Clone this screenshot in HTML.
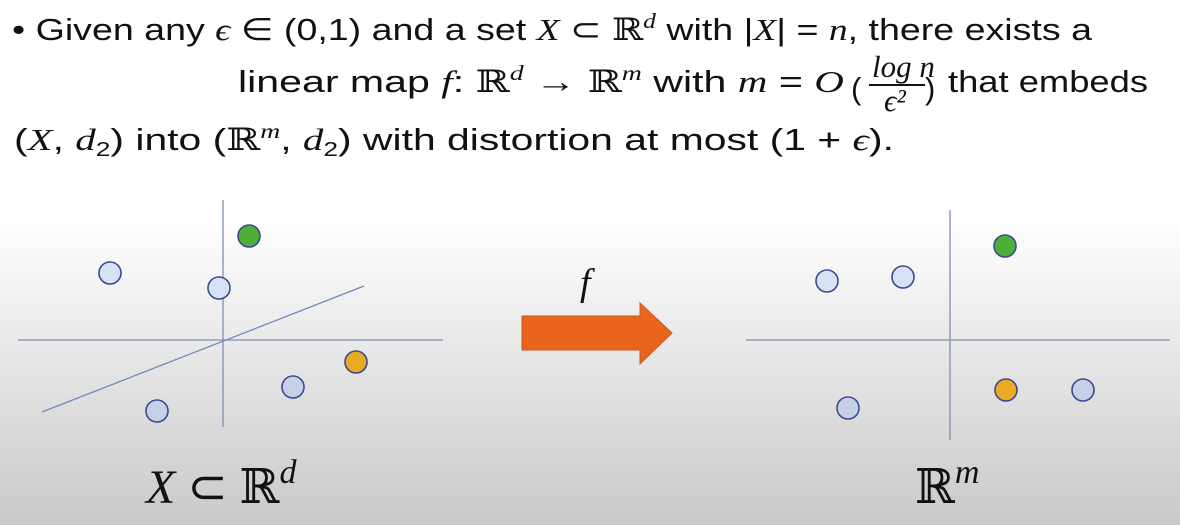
<!DOCTYPE html>
<html><head><meta charset="utf-8"><style>
html,body{margin:0;padding:0;width:1180px;height:525px;overflow:hidden}
svg{display:block}
.t{font-family:"Liberation Sans",sans-serif;font-size:31px;fill:#111}
.m{font-family:"Liberation Serif","DejaVu Serif",serif;font-style:italic}
.r{font-family:"DejaVu Serif","Liberation Serif",serif;font-style:normal}
</style></head><body>
<svg id="svg" width="1180" height="525" viewBox="0 0 1180 525">
<defs><linearGradient id="bg" x1="0" y1="0" x2="0" y2="1">
<stop offset="0" stop-color="#ffffff"/><stop offset="0.42" stop-color="#ffffff"/><stop offset="0.62" stop-color="#ececec"/><stop offset="1" stop-color="#c9c9c9"/></linearGradient></defs>
<rect width="1180" height="525" fill="url(#bg)"/>
<g>
<text class="t" x="12" y="40" textLength="1080" lengthAdjust="spacingAndGlyphs">• Given any <tspan class="m">ϵ</tspan> ∈ (0,1) and a set <tspan class="m">X</tspan> ⊂ <tspan class="r">ℝ</tspan><tspan class="m" dy="-12" font-size="21">d</tspan><tspan dy="12"> with |</tspan><tspan class="m">X</tspan>| = <tspan class="m">n</tspan>, there exists a</text>
<text class="t" x="238" y="92" textLength="606" lengthAdjust="spacingAndGlyphs">linear map <tspan class="m">f</tspan>: <tspan class="r">ℝ</tspan><tspan class="m" dy="-12" font-size="21">d</tspan><tspan dy="12"> → </tspan><tspan class="r">ℝ</tspan><tspan class="m" dy="-12" font-size="21">m</tspan><tspan dy="12"> with </tspan><tspan class="m">m</tspan> = <tspan class="m">O</tspan></text>
<text class="t" x="851" y="99" font-size="46">(</text>
<text class="t m" x="872" y="77" font-size="24">log n</text>
<line x1="869" y1="85" x2="925" y2="85" stroke="#111" stroke-width="2"/>
<text class="t m" x="884" y="111" font-size="24">ϵ²</text>
<text class="t" x="925" y="99" font-size="46">)</text>
<text class="t" x="948" y="92" textLength="200" lengthAdjust="spacingAndGlyphs">that embeds</text>
<text class="t" x="14" y="150" textLength="880" lengthAdjust="spacingAndGlyphs">(<tspan class="m">X</tspan>, <tspan class="m">d</tspan><tspan font-size="20" dy="6">2</tspan><tspan dy="-6">) into (</tspan><tspan class="r">ℝ</tspan><tspan class="m" dy="-12" font-size="21">m</tspan><tspan dy="12">, </tspan><tspan class="m">d</tspan><tspan font-size="20" dy="6">2</tspan><tspan dy="-6">) with distortion at most (1 + </tspan><tspan class="m">ϵ</tspan>).</text>
</g>
<g id="left">
<line x1="18" y1="340" x2="443" y2="340" stroke="#8090b0" stroke-width="1.3"/>
<line x1="223" y1="200" x2="223" y2="427" stroke="#8090b0" stroke-width="1.3"/>
<line x1="42" y1="412" x2="364" y2="286" stroke="#7088c0" stroke-width="1.3"/>
</g>
<g id="right">
<line x1="746" y1="340" x2="1170" y2="340" stroke="#8090b0" stroke-width="1.3"/>
<line x1="950" y1="210" x2="950" y2="440" stroke="#8090b0" stroke-width="1.3"/>
</g>
<path d="M522 316 H640 V303 L672 333 L640 364 V350 H522 Z" fill="#ea641c" stroke="#c85a20" stroke-width="1"/>
<text x="580" y="295" font-family="Liberation Serif,serif" font-style="italic" font-size="38" fill="#111">f</text>
<text x="146" y="503" font-family="Liberation Serif,serif" font-size="48" fill="#111"><tspan font-style="italic">X</tspan> ⊂ <tspan font-family="DejaVu Serif,serif">ℝ</tspan><tspan font-style="italic" font-size="34" dy="-20">d</tspan></text>
<text x="915" y="503" font-family="Liberation Serif,serif" font-size="48" fill="#111"><tspan font-family="DejaVu Serif,serif">ℝ</tspan><tspan font-style="italic" font-size="34" dy="-20">m</tspan></text>
</svg>
<script>
var leftX=[249,110,219,356,293,157];
var leftY=[236,273,288,362,387,411];
var rightX=[1005,827,903,1006,1083,848];
var rightY=[246,281,277,390,390,408];
var kinds=["green","light","light","orange","mid","mid"];
var fills={green:"#4fae38",orange:"#e8ab22",light:"#d8e2f6",mid:"#c6d0e6"};
var NS="http://www.w3.org/2000/svg";
function drawPoints(gid,xs,ys,side){
  var g=document.getElementById(gid);
  for(var i=0;i<xs.length;i++){
    var c=document.createElementNS(NS,"circle");
    c.setAttribute("cx",xs[i]);c.setAttribute("cy",ys[i]);c.setAttribute("r","11");
    c.setAttribute("fill",fills[kinds[i]]);c.setAttribute("stroke","#3a4a90");c.setAttribute("stroke-width","1.6");
    
    
    g.appendChild(c);
  }
}
drawPoints("left",leftX,leftY,"left");
drawPoints("right",rightX,rightY,"right");
</script>
</body></html>
